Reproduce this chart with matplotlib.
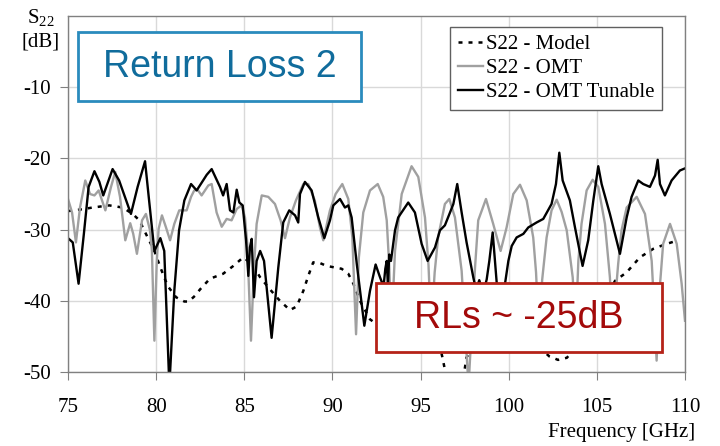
import matplotlib
matplotlib.use("Agg")
import matplotlib.pyplot as plt
from matplotlib.patches import Rectangle

plt.rcParams['font.family'] = ['Liberation Serif', 'DejaVu Serif']
plt.rcParams['mathtext.fontset'] = 'custom'
plt.rcParams['mathtext.rm'] = 'Liberation Serif'
plt.rcParams['axes.unicode_minus'] = False

# S22 of the OMT after tuning
tun_f = [75.0, 75.27, 75.6, 75.9, 76.17, 76.5, 76.78, 77.0, 77.53, 77.9, 78.57, 78.95,
         79.37, 79.6, 79.9, 80.24, 80.46, 80.75, 81.03, 81.3, 81.6, 81.98, 82.3, 82.87,
         83.15, 83.62, 83.8, 84.0, 84.19, 84.38, 84.57, 84.72, 84.91, 85.1, 85.23, 85.32,
         85.42, 85.55, 85.7, 85.9, 86.12, 86.55, 86.93, 87.21, 87.55, 87.88, 88.06, 88.16,
         88.44, 88.82, 89.2, 89.54, 89.86, 90.05, 90.43, 90.71, 90.9, 91.09, 91.38, 91.81,
         92.13, 92.45, 92.7, 92.9, 93.0, 93.08, 93.15, 93.22, 93.32, 93.55, 93.73, 94.3,
         94.68, 95.06, 95.4, 95.82, 96.1, 96.38, 96.67, 96.86, 97.08, 97.33, 97.61, 97.99,
         98.15, 98.33, 98.55, 98.75, 98.9, 99.09, 99.22, 99.4, 99.6, 99.79, 99.98, 100.17,
         100.45, 100.83, 101.11, 101.58, 101.96, 102.43, 102.68, 102.87, 103.06, 103.47,
         103.76, 104.19, 104.51, 104.8, 105.08, 105.27, 105.74, 106.31, 106.69, 106.97,
         107.35, 107.63, 108.01, 108.3, 108.45, 108.58, 108.86, 109.24, 109.71, 110.0]
tun_db = [-31.2, -31.8, -37.6, -30.6, -24.0, -21.8, -23.3, -25.2, -21.5, -23.1, -27.8, -24.0,
          -20.4, -25.9, -33.0, -31.2, -33.0, -52.0, -38.6, -30.1, -25.9, -23.6, -24.5, -22.3,
          -21.5, -24.0, -25.2, -23.6, -27.3, -27.6, -24.4, -26.2, -26.6, -31.5, -36.5, -32.5,
          -31.3, -39.5, -34.4, -33.0, -34.4, -45.2, -35.3, -29.0, -27.3, -28.0, -29.0, -25.0,
          -23.3, -24.5, -28.3, -31.2, -28.7, -26.6, -25.7, -26.9, -26.6, -28.3, -34.8, -43.5,
          -38.6, -34.9, -36.7, -38.0, -35.5, -34.4, -38.0, -33.5, -34.4, -30.1, -28.3, -26.2,
          -27.6, -32.0, -34.4, -32.5, -30.1, -29.4, -27.6, -26.4, -23.6, -27.6, -31.8, -36.7,
          -38.5, -37.1, -39.0, -37.0, -34.4, -30.4, -34.4, -40.0, -40.0, -37.6, -34.4, -32.3,
          -31.1, -30.6, -29.7, -29.0, -28.5, -26.4, -23.6, -19.2, -23.1, -25.9,
          -29.7, -35.1, -31.5, -25.9, -21.1, -23.6, -27.8, -33.4, -28.3, -25.4,
          -23.1, -23.6, -24.0, -22.4, -20.2, -23.6, -25.2, -23.1, -21.7, -21.4]

# S22 of the untuned OMT
omt_f = [75.0, 75.23, 75.45, 75.68, 75.98, 76.25, 76.5, 76.74, 77.12, 77.44, 77.68, 77.95,
         78.25, 78.53, 78.7, 78.91, 79.2, 79.42, 79.65, 79.76, 79.9, 80.03, 80.14, 80.33,
         80.56, 80.79, 81.03, 81.31, 81.73, 81.98, 82.16, 82.35, 82.58, 82.96, 83.15, 83.43,
         83.72, 84.0, 84.28, 84.57, 84.85, 85.04, 85.17, 85.38, 85.55, 85.7, 85.99, 86.36,
         86.74, 87.06, 87.31, 87.59, 87.93, 88.35, 88.63, 89.0, 89.29, 89.48, 89.86, 90.18,
         90.56, 90.9, 91.13, 91.34, 91.5, 91.75, 92.13, 92.57, 92.88, 93.08, 93.22, 93.35,
         93.55, 93.93, 94.49, 94.87, 95.25, 95.45, 95.6, 95.8, 96.0, 96.38, 96.63, 96.95,
         97.33, 97.72, 98.09, 98.27, 98.71, 99.12, 99.54, 99.88, 100.26, 100.64, 101.02,
         101.39, 101.55, 101.7, 101.9, 102.15, 102.43, 102.72, 103.0, 103.29, 103.63, 103.8,
         103.95, 104.13, 104.42, 104.76, 105.08, 105.46, 105.74, 105.9, 106.21, 106.4,
         106.69, 107.26, 107.73, 108.11, 108.26, 108.39, 108.54, 108.76, 109.15, 109.53,
         109.81, 110.0]
omt_db = [-25.7, -27.6, -31.8, -26.9, -23.1, -25.0, -25.2, -24.5, -27.3, -24.0, -21.9, -25.4,
          -31.5, -29.1, -30.6, -33.4, -28.7, -27.8, -30.1, -33.0, -45.6, -34.8, -29.9, -28.0,
          -29.7, -31.5, -29.2, -27.3, -27.3, -25.4, -24.5, -24.4, -25.2, -23.8, -23.6, -27.6,
          -29.6, -28.5, -28.7, -27.1, -26.6, -28.3, -32.0, -45.6, -35.3, -29.2, -25.2, -25.4,
          -26.4, -28.7, -31.2, -28.3, -25.9, -23.6, -23.6, -25.9, -29.7, -31.5, -27.3, -25.0,
          -23.6, -25.7, -31.1, -44.7, -33.9, -27.6, -24.5, -23.6, -25.4, -28.7, -35.0, -44.0,
          -33.0, -25.0, -21.1, -22.6, -28.3, -35.0, -44.0, -36.0, -31.0, -26.4, -25.7, -28.3,
          -35.8, -52.0, -35.3, -28.7, -25.7, -29.2, -33.0, -29.7, -25.0, -23.7, -25.9,
          -31.1, -36.0, -44.0, -37.0, -31.1, -27.3, -25.8, -27.5, -30.1, -36.7, -44.0,
          -34.4, -29.2, -24.5, -23.0, -24.0, -29.2, -36.7, -44.0, -34.8, -30.1,
          -26.9, -25.4, -27.8, -34.4, -41.4, -48.4, -39.1, -32.0, -29.2, -32.0,
          -37.6, -42.8]

# simulated S22 of the model
mod_f = [75.0, 75.64, 76.4, 77.34, 78.1, 78.67, 79.05, 79.42, 79.9, 80.27, 80.65, 81.13,
         81.6, 81.85, 82.2, 82.49, 83.05, 83.8, 84.38, 84.94, 85.42, 85.9, 86.46, 87.02,
         87.59, 87.97, 88.35, 88.63, 88.91, 89.2, 89.67, 90.52, 90.9, 91.19, 91.56, 92.13,
         92.41, 93.5, 94.5, 95.5, 96.2, 96.45, 96.9, 97.45, 97.6, 98.5, 99.5, 100.5, 101.5,
         102.3, 102.8, 103.3, 104.3, 105.3, 106.03, 106.69, 107.44, 108.2, 108.96, 109.62]
mod_db = [-27.4, -27.2, -26.9, -26.6, -26.9, -27.8, -28.7, -30.6, -33.0, -35.5, -37.9, -39.5,
          -40.1, -40.1, -39.3, -38.4, -36.9, -36.2, -35.1, -33.9, -34.8, -36.7, -38.4, -40.0,
          -41.3, -40.8, -38.6, -36.5, -34.6, -34.6, -35.1, -35.5, -36.2, -37.6, -40.0, -42.6,
          -43.1, -44.5, -45.5, -46.5, -47.5, -50.5, -56.0, -50.5, -48.0, -44.0, -43.0, -44.0,
          -46.0, -47.8, -48.3, -48.0, -45.0, -40.5, -37.2, -36.0, -33.9, -32.7, -32.0, -31.5]

fig = plt.figure(figsize=(7.2, 4.46), dpi=100)
ax = fig.add_axes([68 / 720, 74 / 446, 617 / 720, 356 / 446])

ax.plot(mod_f, mod_db, color='black', lw=1.8, ls=(0, (1.6, 2.4)), label='S22 - Model')
ax.plot(omt_f, omt_db, color='#a0a0a0', lw=1.7, solid_joinstyle='round', label='S22 - OMT')
ax.plot(tun_f, tun_db, color='black', lw=1.7, solid_joinstyle='round', label='S22 - OMT Tunable')

ax.set_xlim(75, 110)
ax.set_ylim(-50, 0)
ax.set_xticks(range(75, 111, 5))
ax.set_yticks([-50, -40, -30, -20, -10])
ax.grid(True, color='#d9d9d9', lw=1)
ax.set_axisbelow(True)
for s in ax.spines.values():
    s.set_color('#808080')
    s.set_linewidth(1)
ax.tick_params(axis='both', direction='out', length=6, color='#808080', labelsize=15)
ax.tick_params(axis='x', pad=13)
ax.tick_params(axis='y', pad=6)

leg = ax.legend(loc='upper left', bbox_to_anchor=(450 / 720, 419 / 446),
                bbox_transform=fig.transFigure, borderaxespad=0, fontsize=15,
                handlelength=1.2, handletextpad=0.15, labelspacing=0.2,
                borderpad=0.38, fancybox=False, framealpha=1)
leg.get_frame().set_edgecolor('#606060')
leg.get_frame().set_linewidth(1)

fig.text(41 / 720, 429 / 446, r'$\mathregular{S_{22}}$', ha='center', va='center', fontsize=15)
fig.text(41 / 720, 404 / 446, '[dB]', ha='center', va='center', fontsize=15)
fig.text(695 / 720, 14 / 446, 'Frequency [GHz]', ha='right', va='center', fontsize=15)

# annotation boxes
fig.add_artist(Rectangle((78 / 720, 345 / 446), 283 / 720, 69 / 446, transform=fig.transFigure,
                         facecolor='white', edgecolor='#2a8bbd', lw=2, zorder=5))
fig.text(219.5 / 720, 379 / 446, 'Return Loss 2', ha='center', va='center', fontsize=27,
         family='Liberation Sans', color='#106c9c', zorder=6)
fig.add_artist(Rectangle((376 / 720, 94 / 446), 286 / 720, 69 / 446, transform=fig.transFigure,
                         facecolor='white', edgecolor='#b52218', lw=2, zorder=5))
fig.text(519 / 720, 128 / 446, 'RLs ~ -25dB', ha='center', va='center', fontsize=27,
         family='Liberation Sans', color='#a30a0a', zorder=6)

fig.savefig('out.png', dpi=100)
